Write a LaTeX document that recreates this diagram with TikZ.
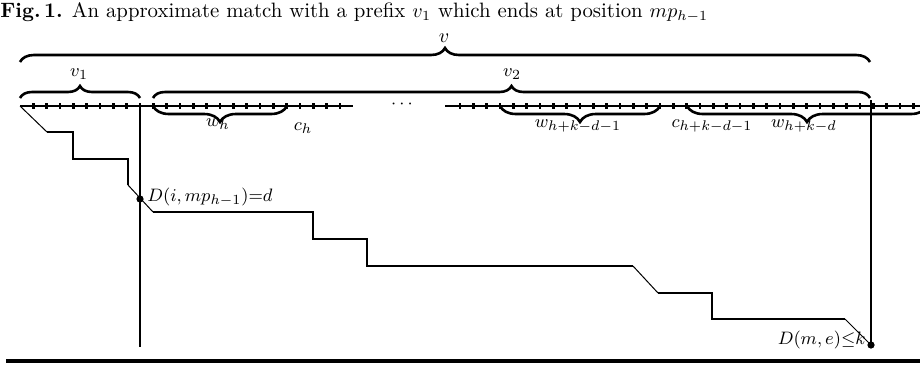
\documentclass[tikz,border=0pt]{standalone}
\usetikzlibrary{decorations.pathreplacing}
\DeclareMathSizes{9.5}{9.5}{7.2}{5.5}
\begin{document}
\begin{tikzpicture}[x=0.5pt,y=-0.5pt,
 bracestyle/.style={decorate,decoration={brace,amplitude=#1},line width=1.3pt},
 tickline/.style={line width=1pt},
 tickmark/.style={line width=1.2pt},
 stairs/.style={line width=1.3pt},
 diag/.style={line width=0.5pt},
 lab/.style={inner sep=0pt,font=\fontsize{9.5}{11}\selectfont},
 biglab/.style={inner sep=0pt,font=\fontsize{10.4}{12}\selectfont},
 dotmark/.style={circle,fill,inner sep=0pt,minimum size=3.6pt}
]
\useasboundingbox (0,0) rectangle (920,365);
\node[biglab,anchor=base west] (cap) at (0,17) {\textbf{Fig.\,1.} An approximate match with a prefix $v_1$ which ends at position $mp_{h-1}$};
\node[biglab] (lv) at (444,38) {$v$};
\draw[bracestyle=7pt] (20,62) -- (870,62);
\draw[bracestyle=6pt] (20,98) -- (140,98);
\draw[bracestyle=6pt] (153,98) -- (870,98);
\node[lab] (lv1) at (79,74) {$v_1$};
\node[lab] (lv2) at (512,74) {$v_2$};
% tick line
\draw[tickline] (20,106) -- (353,106);
\draw[tickline] (445,106) -- (920,106);
\foreach \n in {1,...,24} \draw[tickmark] ({20+\n*13.333},103) -- ++(0,6);
\foreach \n in {33,...,67} \draw[tickmark] ({20+\n*13.333},103) -- ++(0,6);
\node[lab] (dots) at (402,104) {$\cdots$};
% lower braces
\draw[bracestyle=8pt] (287,106) -- (153,106);
\draw[bracestyle=8pt] (660,106) -- (500,106);
\draw[bracestyle=8pt] (927,106) -- (687,106);
\node[lab] (lwh) at (218,124) {$w_h$};
\node[lab] (lch) at (303,128) {$c_h$};
\node[lab] (lw1) at (578,126) {$w_{h+k-d-1}$};
\node[lab] (lc1) at (712,126) {$c_{h+k-d-1}$};
\node[lab] (lw2) at (804,126) {$w_{h+k-d}$};
% dots
\node[dotmark] (d1) at (140,199) {};
\node[dotmark] (d2) at (871,345) {};
% vertical lines
\coordinate (t1) at (140,106);
\coordinate (b1) at (140,347);
\coordinate (t2) at (871,100);
\draw[stairs] (t1) -- (b1);
\draw[stairs] (t2) -- (d2.center);
% staircase
\draw[diag] (20,106) -- (47,132);
\draw[stairs] (47,132) -| (73,159) -| (128,185);
\draw[diag] (128,185) -- (153,212);
\draw[stairs] (153,212) -| (313,239) -| (367,266) -- (633,266);
\draw[diag] (633,266) -- (658,293);
\draw[stairs] (658,293) -| (712,319) -- (845,319);
\draw[diag] (845,319) -- (d2.center);
\node[lab,anchor=west] (ld1) at (147,197) {$D(i,mp_{h-1}){=}d$};
\node[lab,anchor=east] (ld2) at (866,340) {$D(m,e){\leq}k$};
% bottom rule
\draw[line width=1.8pt] (6,361) -- (920,361);
\end{tikzpicture}
\end{document}
